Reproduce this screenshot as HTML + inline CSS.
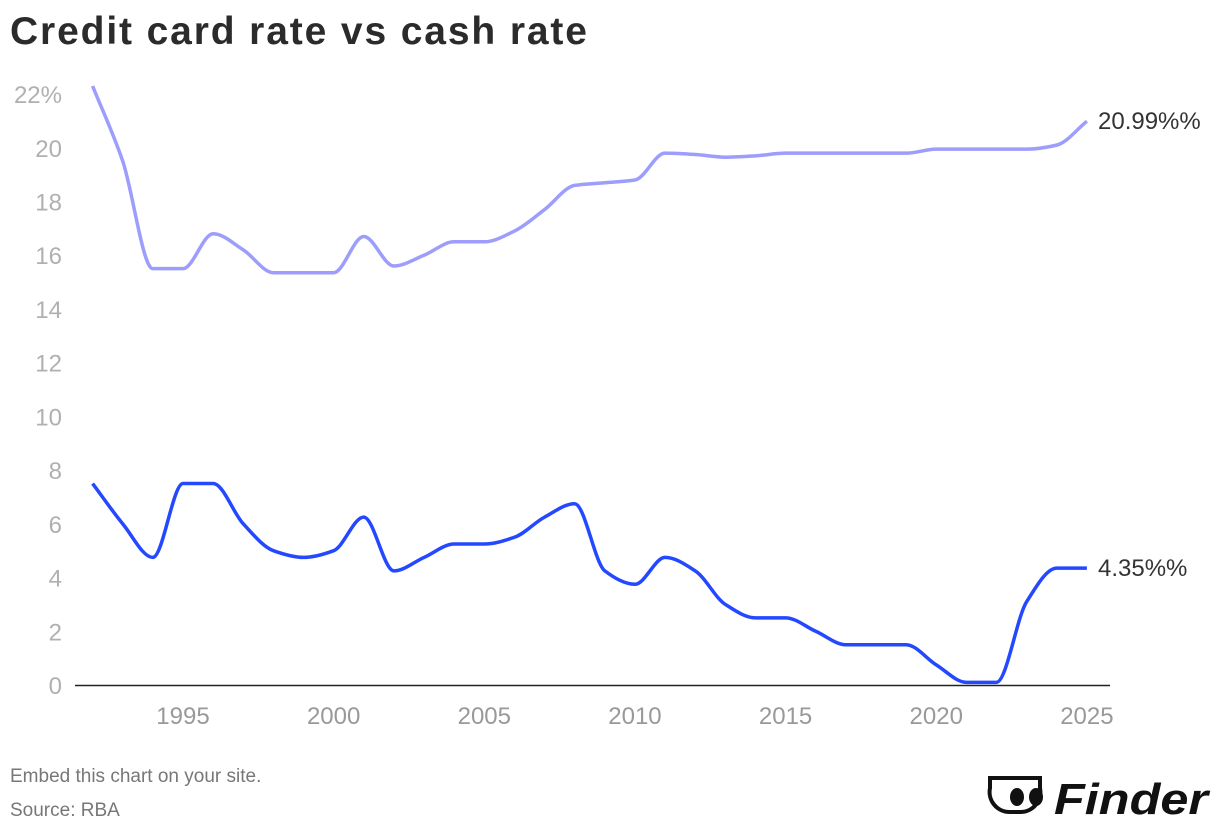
<!DOCTYPE html>
<html><head><meta charset="utf-8"><style>
body{margin:0;background:#fff;width:1220px;height:832px;overflow:hidden;font-family:"Liberation Sans",sans-serif}
</style></head><body>
<svg width="1220" height="832">
<text x="10" y="44" font-size="39" font-weight="bold" fill="#2b2b2b" textLength="577" lengthAdjust="spacing">Credit card rate vs cash rate</text>
<g id="yticks"></g>
<g id="xticks"></g>
<line x1="75" x2="1110" y1="685.5" y2="685.5" stroke="#222" stroke-width="1.5"/>
<g id="series"></g>
<text x="10" y="782" font-size="19" fill="#777">Embed this chart on your site.</text>
<text x="10" y="816" font-size="19" fill="#777">Source: RBA</text>
<g>
<path d="M990 778 h50 v10 a20 20 0 0 1 -20 24 h-10 a20 20 0 0 1 -20 -24 z" fill="none" stroke="#111" stroke-width="4"/>
<ellipse cx="1017" cy="797" rx="7" ry="9" fill="#111"/><ellipse cx="1036" cy="797" rx="7" ry="9" fill="#111"/>
<text x="1054" y="814" font-size="44" font-weight="bold" font-style="italic" fill="#111" textLength="154" lengthAdjust="spacingAndGlyphs">Finder</text>
</g>
</svg>
<script>
const years=[1992,1993,1994,1995,1996,1997,1998,1999,2000,2001,2002,2003,2004,2005,2006,2007,2008,2009,2010,2011,2012,2013,2014,2015,2016,2017,2018,2019,2020,2021,2022,2023,2024,2025];
const creditRate=[22.3,19.5,15.5,15.5,16.8,16.2,15.35,15.35,15.35,16.7,15.6,16.0,16.5,16.5,16.9,17.7,18.6,18.7,18.8,19.8,19.75,19.65,19.7,19.8,19.8,19.8,19.8,19.8,19.95,19.95,19.95,19.95,20.1,20.99];
const cashRate=[7.5,6.0,4.75,7.5,7.5,6.0,5.0,4.75,5.0,6.25,4.25,4.75,5.25,5.25,5.5,6.25,6.75,4.25,3.75,4.75,4.25,3.0,2.5,2.5,2.0,1.5,1.5,1.5,0.75,0.1,0.1,3.1,4.35,4.35];
const yTicks=[0,2,4,6,8,10,12,14,16,18,20,22];
const xTicks=[1995,2000,2005,2010,2015,2020,2025];
const endLabels=["20.99%%","4.35%%"];
const NS="http://www.w3.org/2000/svg";
const X=y=>183+(y-1995)*30.13;
const Y=v=>685-v*26.86;
function mk(t,a,p){const e=document.createElementNS(NS,t);for(const k in a)e.setAttribute(k,a[k]);p.appendChild(e);return e;}
const yg=document.getElementById('yticks');
yTicks.forEach(t=>{const e=mk('text',{x:62,y:Y(t)+9,'text-anchor':'end','font-size':24,fill:'#b0b0b0'},yg);e.textContent=t===22?'22%':t;

});
const xg=document.getElementById('xticks');
xTicks.forEach(t=>{const e=mk('text',{x:X(t),y:724,'text-anchor':'middle','font-size':24,fill:'#999'},xg);e.textContent=t;

});
function monotonePath(xs,ys){const n=xs.length,d=[],m=new Array(n);
for(let i=0;i<n-1;i++)d.push((ys[i+1]-ys[i])/(xs[i+1]-xs[i]));
m[0]=d[0];m[n-1]=d[n-2];
for(let i=1;i<n-1;i++){m[i]=(d[i-1]*d[i]>0)?2/(1/d[i-1]+1/d[i]):0;}
let p=`M${xs[0]},${ys[0]}`;
for(let i=0;i<n-1;i++){const h=(xs[i+1]-xs[i])/3;p+=` C${xs[i]+h},${ys[i]+m[i]*h} ${xs[i+1]-h},${ys[i+1]-m[i+1]*h} ${xs[i+1]},${ys[i+1]}`;}
return p;}
const sg=document.getElementById('series');
[[creditRate,'#9c9dfc','credit-card-rate-line'],[cashRate,'#2348ff','cash-rate-line']].forEach(([vals,c,name],k)=>{
const xs=years.map(X),ys=vals.map(Y);
const pth=mk('path',{d:monotonePath(xs,ys),fill:'none',stroke:c,'stroke-width':3.5},sg);


const t=mk('text',{x:1098,y:ys[ys.length-1]+8,'font-size':24,fill:'#333'},sg);t.textContent=endLabels[k];


});
</script>
</body></html>
